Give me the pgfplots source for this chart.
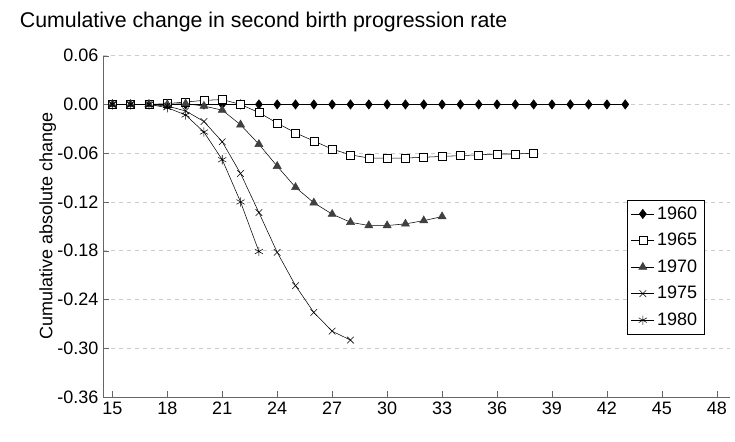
\documentclass[border=0pt]{standalone}
\usepackage{pgfplots}
\pgfplotsset{compat=1.18}
\usepackage{fontspec}
\setmainfont{Liberation Sans}
\begin{document}
\begin{tikzpicture}
\begin{axis}[name=ax,scale only axis,width=470pt,height=256pt,
 xmin=14.49,xmax=48.7,ymin=-0.36,ymax=0.06,
 xtick={15,18,...,48},ytick={-0.36,-0.30,...,0.06},
 yticklabel style={/pgf/number format/.cd,fixed,fixed zerofill,precision=2},
 /pgf/number format/assume math mode=true,
 ymajorgrids,grid style={dashed,gray!40},
 axis x line*=bottom, axis y line*=left, axis line style={gray!80!black},
 tick style={gray!80!black},
 tick label style={font=\fontsize{13.5}{15}\selectfont},
 ylabel={Cumulative absolute change},ylabel style={font=\fontsize{13.5}{15}\selectfont,yshift=-6pt},
 legend style={at={(0.836,0.578)},anchor=north west,font=\fontsize{13.5}{15}\selectfont,draw=black,row sep=5pt,inner sep=3pt},
 legend cell align=left,
 every axis plot/.append style={black,thin}]
\addplot[mark=diamond*,mark size=3.5pt,mark options={fill=black}] coordinates {(15,0)(16,0)(17,0)(18,0)(19,0)(20,0)(21,0)(22,0)(23,0)(24,0)(25,0)(26,0)(27,0)(28,0)(29,0)(30,0)(31,0)(32,0)(33,0)(34,0)(35,0)(36,0)(37,0)(38,0)(39,0)(40,0)(41,0)(42,0)(43,0)};
\addplot[mark=square*,mark size=3pt,mark options={fill=white}] coordinates {(15,0)(16,0)(17,0)(18,0.001)(19,0.003)(20,0.005)(21,0.006)(22,0)(23,-0.010)(24,-0.023)(25,-0.035)(26,-0.045)(27,-0.055)(28,-0.062)(29,-0.066)(30,-0.066)(31,-0.066)(32,-0.065)(33,-0.064)(34,-0.063)(35,-0.062)(36,-0.061)(37,-0.061)(38,-0.060)};
\addplot[mark=triangle*,mark size=3.5pt,mark options={fill=black!75,draw=black!75}] coordinates {(15,0)(16,0)(17,0)(18,0)(19,0.001)(20,-0.002)(21,-0.007)(22,-0.025)(23,-0.049)(24,-0.076)(25,-0.102)(26,-0.121)(27,-0.135)(28,-0.145)(29,-0.149)(30,-0.149)(31,-0.147)(32,-0.143)(33,-0.138)};
\addplot[mark=x,mark size=3.5pt] coordinates {(15,0)(16,0)(17,0)(18,-0.002)(19,-0.008)(20,-0.021)(21,-0.046)(22,-0.085)(23,-0.133)(24,-0.182)(25,-0.223)(26,-0.256)(27,-0.279)(28,-0.290)};
\addplot[mark=asterisk,mark size=3.5pt] coordinates {(15,0)(16,0)(17,0)(18,-0.004)(19,-0.013)(20,-0.034)(21,-0.068)(22,-0.120)(23,-0.181)};
\legend{1960,1965,1970,1975,1980}
\end{axis}
\node[anchor=base west,inner sep=0pt,font=\fontsize{16}{18}\selectfont] at ([xshift=-62.5pt,yshift=21pt]ax.north west) {Cumulative change in second birth progression rate};
\pgfresetboundingbox
\path[use as bounding box] ([xshift=-77.25pt,yshift=-33.75pt]ax.south west) rectangle ([xshift=4pt,yshift=41.75pt]ax.north east);
\end{tikzpicture}
\end{document}
